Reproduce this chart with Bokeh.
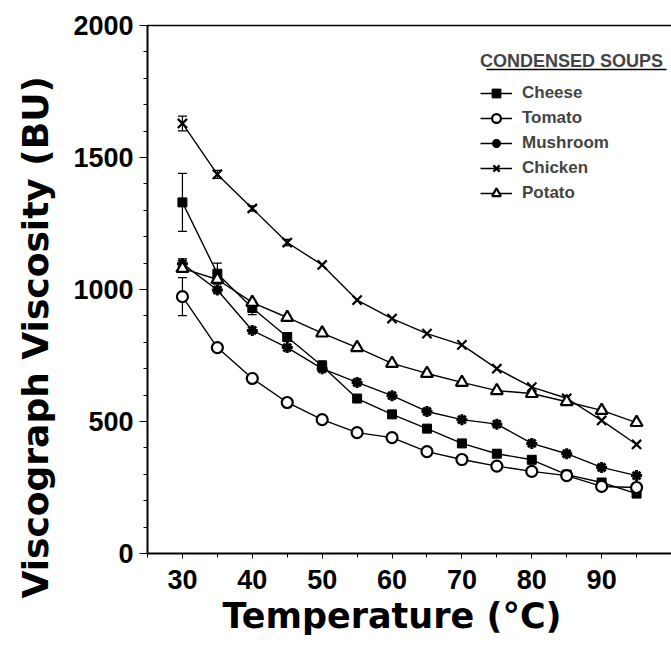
from bokeh.plotting import figure
from bokeh.models import (FixedTicker, LinearAxis, Range1d, Legend, LegendItem,
                          Whisker, TeeHead, ColumnDataSource, Title, Arrow)
from bokeh.embed import file_html
from bokeh.resources import INLINE

temps = [30, 35, 40, 45, 50, 55, 60, 65, 70, 75, 80, 85, 90, 95]
cheese = [1330, 1060, 930, 820, 710, 587, 527, 473, 417, 378, 355, 299, 269, 227]
tomato = [973, 780, 663, 572, 507, 458, 439, 386, 356, 331, 311, 295, 254, 250]
mushroom = [1098, 998, 845, 780, 700, 648, 598, 538, 507, 490, 417, 378, 326, 295]
chicken = [1629, 1436, 1307, 1178, 1093, 960, 890, 833, 790, 700, 630, 588, 504, 413]
potato = [1080, 1038, 951, 894, 835, 780, 720, 682, 648, 617, 606, 575, 542, 496]

cheese_err = [110, 40, 25, 15, 20, 0, 0, 0, 0, 0, 0, 0, 0, 0]
tomato_err = [72, 0, 0, 0, 0, 0, 0, 0, 0, 0, 0, 0, 0, 0]
mushroom_err = [18, 0, 0, 0, 0, 0, 0, 0, 0, 0, 0, 0, 0, 0]
chicken_err = [28, 15, 10, 12, 0, 0, 0, 0, 0, 0, 0, 0, 0, 0]
potato_err = [0] * 14

x_ticks = [30, 40, 50, 60, 70, 80, 90]
x_minor = [25, 35, 45, 55, 65, 75, 85, 95]
y_ticks = [0, 500, 1000, 1500, 2000]
y_minor = list(range(0, 2001, 100))

FONT = "Liberation Sans"
TFONT = "DejaVu Sans"

p = figure(width=671, height=650, output_backend="svg", toolbar_location=None,
           x_range=Range1d(25, 100), y_range=Range1d(0, 2000),
           min_border_left=147, min_border_right=0, min_border_top=25,
           min_border_bottom=97)
p.outline_line_color = None
p.xgrid.visible = False
p.ygrid.visible = False
p.background_fill_color = "white"

xa = p.xaxis[0]
xa.ticker = FixedTicker(ticks=x_ticks, minor_ticks=x_minor)
ya = p.yaxis[0]
ya.ticker = FixedTicker(ticks=y_ticks, minor_ticks=y_minor)
for ax in (xa, ya):
    ax.axis_line_width = 2
    ax.axis_line_color = "black"
    ax.major_tick_line_color = "black"
    ax.minor_tick_line_color = "black"
    ax.major_label_text_font = FONT
    ax.major_label_text_font_style = "bold"
    ax.major_label_text_font_size = "27px"
    ax.major_label_text_color = "black"
    ax.minor_tick_in = 0
    ax.major_tick_in = 0
xa.major_tick_out = 5
xa.minor_tick_out = 4
xa.major_label_standoff = 11
ya.major_tick_out = 8
ya.minor_tick_out = 4
ya.major_label_standoff = 6

top_axis = LinearAxis(ticker=FixedTicker(ticks=[]), axis_line_width=1.5,
                      major_tick_out=0, minor_tick_out=0, major_tick_in=0,
                      minor_tick_in=0, major_label_text_font_size="0px")
p.add_layout(top_axis, "above")

p.add_layout(Title(text="Viscograph Viscosity (BU)", text_font=TFONT,
                   text_font_style="bold", text_font_size="36px",
                   text_line_height=1.0, text_color="black", align="left",
                   vertical_align="top", offset=-45, standoff=25), "left")
p.add_layout(Title(text="Temperature (°C)", text_font=TFONT,
                   text_font_style="bold", text_font_size="35px",
                   text_color="black", align="left", offset=75,
                   standoff=5), "below")

series = [
    ("Cheese", cheese, cheese_err, dict(marker="square", size=9, fill_color="black", line_width=1)),
    ("Tomato", tomato, tomato_err, dict(marker="circle", size=11, fill_color="white", line_width=2.2)),
    ("Mushroom", mushroom, mushroom_err, dict(marker="asterisk", size=11, fill_color="black", line_width=3)),
    ("Chicken", chicken, chicken_err, dict(marker="x", size=13, fill_color="black", line_width=2.2)),
    ("Potato", potato, potato_err, dict(marker="triangle", size=12, fill_color="white", line_width=2.2)),
]

items = []
for name, vals, errs, style in series:
    xs_e = [t for t, e in zip(temps, errs) if e > 0]
    lo = [v - e for v, e in zip(vals, errs) if e > 0]
    hi = [v + e for v, e in zip(vals, errs) if e > 0]
    if xs_e:
        es = ColumnDataSource(dict(x=xs_e, lo=lo, hi=hi))
        w = Whisker(source=es, base="x", lower="lo", upper="hi", line_color="black",
                    line_width=1.2,
                    upper_head=TeeHead(size=9, line_color="black", line_width=1.2),
                    lower_head=TeeHead(size=9, line_color="black", line_width=1.2))
        p.add_layout(w)
    src = ColumnDataSource(dict(x=temps, y=vals))
    ln = p.line("x", "y", source=src, line_color="black", line_width=1.4)
    sc = p.scatter("x", "y", source=src, line_color="black", **style)
    items.append(LegendItem(label=name, renderers=[ln, sc]))

legend = Legend(items=items, location=(333, 349), title="CONDENSED SOUPS",
                title_text_font=FONT, title_text_font_style="bold",
                title_text_font_size="18px", title_standoff=10,
                label_text_font=FONT, label_text_font_style="bold",
                label_text_font_size="17px", label_height=22, glyph_height=22,
                glyph_width=32, label_standoff=10, spacing=3, padding=4,
                margin=0, border_line_color=None, background_fill_alpha=0)
p.add_layout(legend, "center")

# underline of legend title
p.add_layout(Arrow(end=None, x_start=339, y_start=484, x_end=519, y_end=484,
                   start_units="screen", end_units="screen",
                   line_color="black", line_width=1.5))

open("out.html", "w").write(file_html(p, INLINE))
